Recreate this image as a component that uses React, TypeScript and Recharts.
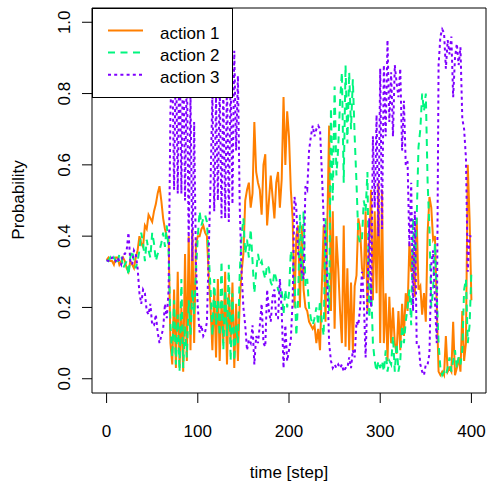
import React from "react";
import { Line, LineChart, ReferenceArea, XAxis, YAxis } from "recharts";

// time index (every 2nd step of the 400-step run)
const steps = Array.from({ length: 201 }, (_, i) => i * 2);

// probability of each action
const action1 = [
  // 0-22
  0.333, 0.34, 0.33, 0.33, 0.32, 0.34, 0.34, 0.32, 0.33, 0.34, 0.33, 0.31,
  // 24-68
  0.30, 0.33, 0.32, 0.31, 0.34, 0.36, 0.40, 0.38, 0.37, 0.43, 0.42, 0.46,
  0.45, 0.44, 0.47, 0.49, 0.52, 0.54, 0.50, 0.45, 0.42, 0.40, 0.39,
  // 70-100
  0.10, 0.04, 0.25, 0.03, 0.30, 0.03, 0.20, 0.02, 0.35, 0.05, 0.40, 0.08,
  0.42, 0.10, 0.38, 0.40,
  // 102-112
  0.40, 0.42, 0.43, 0.41, 0.40, 0.29,
  // 114-150
  0.20, 0.08, 0.25, 0.06, 0.28, 0.05, 0.22, 0.10, 0.30, 0.04, 0.24, 0.10,
  0.27, 0.03, 0.21, 0.05, 0.22, 0.30, 0.35,
  // 152-200
  0.50, 0.53, 0.55, 0.48, 0.52, 0.72, 0.58, 0.55, 0.53, 0.46, 0.60, 0.63,
  0.43, 0.50, 0.57, 0.51, 0.45, 0.55, 0.58, 0.48, 0.56, 0.79, 0.60, 0.75, 0.68,
  // 202-236
  0.53, 0.45, 0.20, 0.40, 0.43, 0.20, 0.43, 0.25, 0.20, 0.19, 0.16, 0.15,
  0.14, 0.15, 0.10, 0.14, 0.08, 0.26,
  // 238-296
  0.43, 0.16, 0.43, 0.71, 0.19, 0.47, 0.14, 0.40, 0.31, 0.19, 0.10, 0.43,
  0.09, 0.31, 0.08, 0.27, 0.08, 0.26, 0.29, 0.45, 0.42, 0.31, 0.28, 0.47,
  0.19, 0.38, 0.53, 0.22, 0.47, 0.24,
  // 298-340
  0.55, 0.10, 0.53, 0.10, 0.24, 0.05, 0.23, 0.10, 0.20, 0.10, 0.07, 0.19,
  0.08, 0.21, 0.12, 0.24, 0.19, 0.38, 0.30, 0.36, 0.23, 0.45,
  // 342-364
  0.25, 0.26, 0.18, 0.24, 0.16, 0.41, 0.51, 0.48, 0.39, 0.40, 0.21, 0.02,
  // 366-400
  0.01, 0.02, 0.01, 0.12, 0.02, 0.03, 0.02, 0.16, 0.01, 0.03, 0.06, 0.02,
  0.19, 0.05, 0.10, 0.60, 0.45, 0.22,
];
const action2 = [
  0.333, 0.33, 0.34, 0.33, 0.34, 0.33, 0.32, 0.35, 0.35, 0.31, 0.32, 0.33,
  0.29, 0.34, 0.36, 0.33, 0.31, 0.33, 0.36, 0.41, 0.38, 0.33, 0.39, 0.36,
  0.34, 0.41, 0.38, 0.33, 0.35, 0.36, 0.38, 0.41, 0.37, 0.43, 0.36,
  0.15, 0.06, 0.22, 0.04, 0.18, 0.02, 0.28, 0.03, 0.15, 0.06, 0.22, 0.12,
  0.25, 0.18, 0.30, 0.40,
  0.47, 0.43, 0.45, 0.46, 0.44, 0.35,
  0.25, 0.12, 0.28, 0.15, 0.22, 0.12, 0.33, 0.08, 0.25, 0.12, 0.32, 0.05,
  0.24, 0.05, 0.15, 0.10, 0.30, 0.40, 0.45,
  0.35, 0.39, 0.34, 0.42, 0.33, 0.24, 0.30, 0.35, 0.32, 0.33, 0.30, 0.28,
  0.32, 0.31, 0.27, 0.26, 0.30, 0.28, 0.25, 0.24, 0.25, 0.18, 0.25, 0.20, 0.24,
  0.36, 0.33, 0.29, 0.12, 0.22, 0.46, 0.27, 0.47, 0.26, 0.28, 0.20, 0.17,
  0.15, 0.17, 0.20, 0.15, 0.22, 0.16,
  0.12, 0.45, 0.30, 0.19, 0.76, 0.50, 0.82, 0.57, 0.65, 0.78, 0.86, 0.55,
  0.88, 0.66, 0.86, 0.70, 0.84, 0.68, 0.55, 0.40, 0.38, 0.39, 0.50, 0.47,
  0.58, 0.17, 0.27, 0.10, 0.05, 0.02,
  0.05, 0.03, 0.05, 0.02, 0.08, 0.02, 0.05, 0.04, 0.12, 0.02, 0.10, 0.02,
  0.05, 0.15, 0.10, 0.16, 0.20, 0.25, 0.15, 0.45, 0.30, 0.45,
  0.65, 0.70, 0.80, 0.75, 0.80, 0.55, 0.42, 0.20, 0.25, 0.38, 0.24, 0.10,
  0.03, 0.01, 0.02, 0.01, 0.03, 0.06, 0.02, 0.05, 0.08, 0.03, 0.06, 0.04,
  0.08, 0.25, 0.28, 0.10, 0.15, 0.30,
];
const action3 = [
  0.333, 0.33, 0.33, 0.34, 0.34, 0.33, 0.34, 0.33, 0.32, 0.35, 0.35, 0.36,
  0.41, 0.33, 0.32, 0.36, 0.35, 0.31, 0.24, 0.21, 0.25, 0.24, 0.19, 0.18,
  0.21, 0.15, 0.15, 0.18, 0.13, 0.10, 0.12, 0.14, 0.21, 0.17, 0.25,
  0.75, 0.90, 0.53, 0.93, 0.52, 0.95, 0.52, 0.95, 0.50, 0.89, 0.38, 0.80,
  0.33, 0.72, 0.32, 0.20,
  0.13, 0.15, 0.12, 0.13, 0.16, 0.36,
  0.55, 0.80, 0.47, 0.79, 0.50, 0.83, 0.45, 0.82, 0.45, 0.84, 0.44, 0.85,
  0.49, 0.92, 0.64, 0.85, 0.48, 0.30, 0.20,
  0.15, 0.08, 0.11, 0.10, 0.15, 0.04, 0.12, 0.10, 0.15, 0.21, 0.10, 0.09,
  0.25, 0.19, 0.16, 0.23, 0.25, 0.17, 0.17, 0.28, 0.19, 0.03, 0.15, 0.05, 0.08,
  0.11, 0.22, 0.51, 0.48, 0.35, 0.34, 0.30, 0.28, 0.54, 0.53, 0.64, 0.68,
  0.71, 0.68, 0.70, 0.71, 0.70, 0.58,
  0.45, 0.39, 0.27, 0.10, 0.05, 0.03, 0.04, 0.03, 0.04, 0.03, 0.04, 0.02,
  0.03, 0.03, 0.06, 0.03, 0.08, 0.06, 0.16, 0.15, 0.20, 0.30, 0.22, 0.06,
  0.23, 0.45, 0.20, 0.68, 0.48, 0.74,
  0.40, 0.87, 0.42, 0.88, 0.68, 0.95, 0.72, 0.86, 0.68, 0.88, 0.83, 0.79,
  0.87, 0.64, 0.78, 0.60, 0.61, 0.37, 0.55, 0.19, 0.47, 0.10,
  0.10, 0.04, 0.02, 0.01, 0.04, 0.04, 0.07, 0.32, 0.36, 0.22, 0.10, 0.88,
  0.96, 0.98, 0.97, 0.87, 0.95, 0.91, 0.96, 0.79, 0.90, 0.94, 0.88, 0.93,
  0.73, 0.70, 0.62, 0.30, 0.40, 0.40,
];

const xTicks = [0, 100, 200, 300, 400];
const yTicks = [0, 0.2, 0.4, 0.6, 0.8, 1.0];

const FONT = '"Liberation Sans", Arial, Helvetica, sans-serif';

const SERIES = [
  { key: "a1", name: "action 1", color: "#FF7F00", dash: undefined },
  { key: "a2", name: "action 2", color: "#00F57F", dash: "7 5.5" },
  { key: "a3", name: "action 3", color: "#7F00FF", dash: "3 3.2" },
];

const rows = steps.map((t, i) => ({
  t,
  a1: action1[i],
  a2: action2[i],
  a3: action3[i],
}));

const YTick = (props: any) => {
  const { y, payload } = props;
  return (
    <text
      x={70}
      y={y}
      transform={`rotate(-90 70 ${y})`}
      textAnchor="middle"
      fontSize={17}
      fontFamily={FONT}
      fill="#000"
    >
      {payload.value.toFixed(1)}
    </text>
  );
};

const YLabel = () => (
  <text x={24} y={200} transform="rotate(-90 24 200)" textAnchor="middle" fontSize={17} fontFamily={FONT} fill="#000">
    Probability
  </text>
);

const XLabel = () => (
  <text x={289} y={478} textAnchor="middle" fontSize={17} fontFamily={FONT} fill="#000">
    time [step]
  </text>
);

// legend box drawn over the top-left corner of the plot
const LegendBox = () => (
  <svg width={141} height={90} style={{ position: "absolute", left: 92, top: 8, display: "block" }}>
    <rect x={0.5} y={0.5} width={140} height={89} fill="#fff" stroke="#000" />
    {SERIES.map((s, i) => (
      <g key={s.key}>
        <line
          x1={16}
          x2={51}
          y1={22.5 + i * 22.1}
          y2={22.5 + i * 22.1}
          stroke={s.color}
          strokeWidth={2}
          strokeDasharray={s.dash}
        />
        <text x={68} y={31 + i * 22} fontSize={17} fontFamily={FONT} fill="#000">
          {s.name}
        </text>
      </g>
    ))}
  </svg>
);

export default function App() {
  return (
    <div style={{ position: "absolute", left: 0, top: 0, width: 488, height: 490, background: "#fff" }}>
      <LineChart width={488} height={490} data={rows} margin={{ top: 8, right: 2, bottom: 0, left: 0 }}>
        <XAxis
          dataKey="t"
          type="number"
          domain={[-16, 416]}
          ticks={xTicks}
          allowDataOverflow
          height={97}
          axisLine={false}
          tickLine={{ stroke: "#000" }}
          tickSize={10}
          tickMargin={22}
          tick={{ fill: "#000", fontSize: 17, fontFamily: FONT }}
          label={<XLabel />}
        />
        <YAxis
          type="number"
          domain={[-0.04, 1.04]}
          ticks={yTicks}
          allowDataOverflow
          width={92}
          axisLine={false}
          tickLine={{ stroke: "#000" }}
          tickSize={10}
          tick={<YTick />}
          label={<YLabel />}
        />
        <ReferenceArea x1={-16} x2={416} y1={-0.04} y2={1.04} fill="none" stroke="#000" ifOverflow="visible" />
        {SERIES.map((s) => (
          <Line
            key={s.key}
            type="linear"
            dataKey={s.key}
            name={s.name}
            stroke={s.color}
            strokeWidth={2}
            strokeDasharray={s.dash}
            dot={false}
            isAnimationActive={false}
          />
        ))}
      </LineChart>
      <LegendBox />
    </div>
  );
}
